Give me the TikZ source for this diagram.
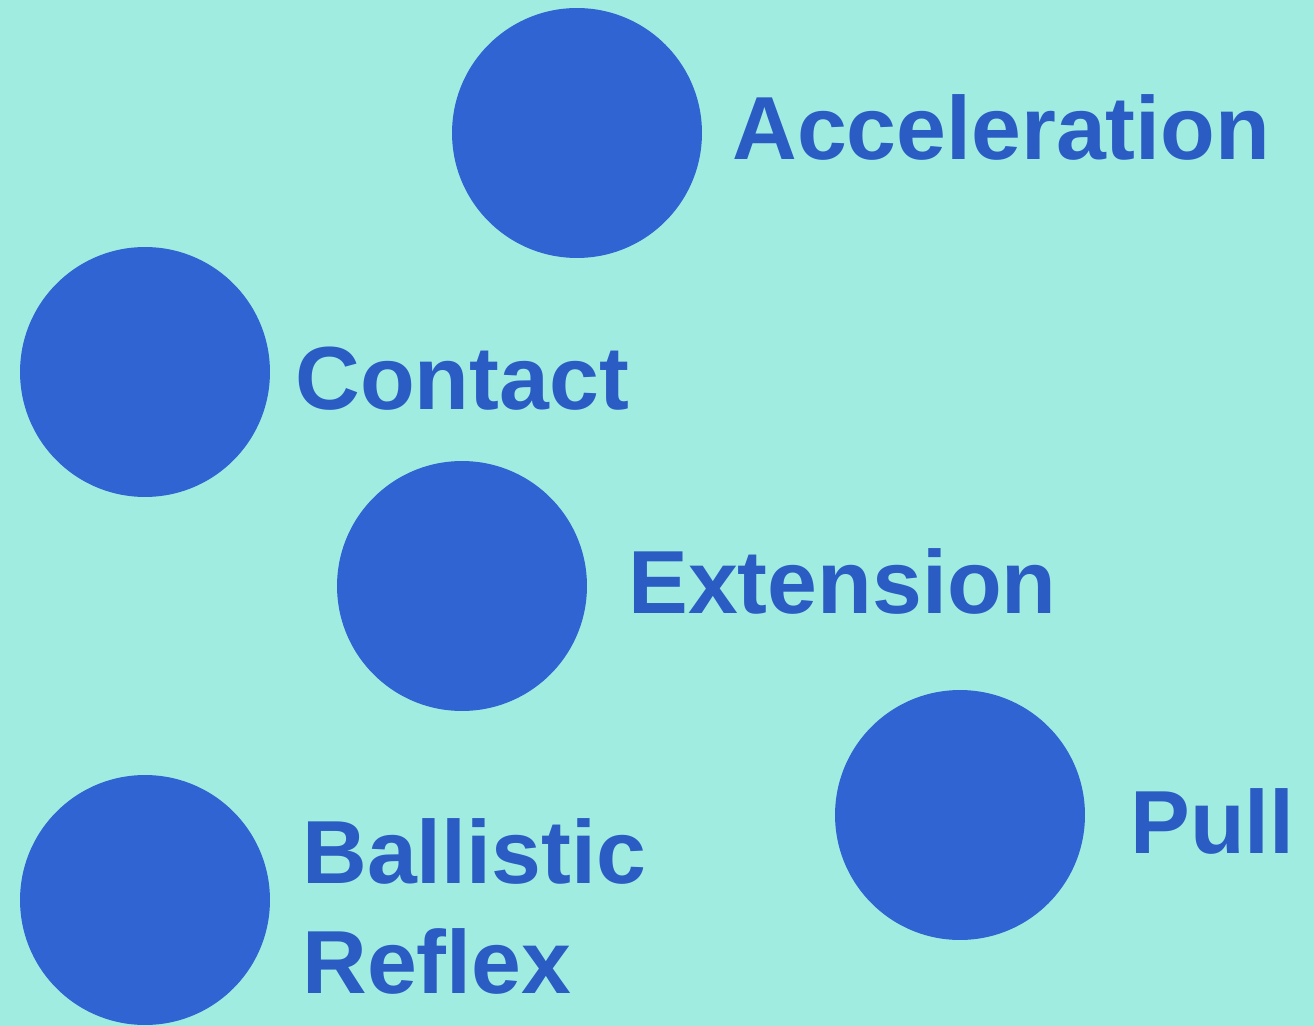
\documentclass[tikz,border=0pt]{standalone}
\usepackage{fontspec}
\setmainfont{Liberation Sans}
\usepackage{xcolor}
\definecolor{PhaseAqua}{RGB}{160,236,224}
\definecolor{PhaseBlue}{RGB}{48,100,210}
\definecolor{PhaseText}{RGB}{42,92,196}

\begin{document}
\begin{tikzpicture}[x=0.02cm,y=-0.02cm,dot/.style={circle,fill=PhaseBlue,minimum size=5cm,inner sep=0pt},lbl/.style={anchor=base west,inner sep=0pt,text=PhaseText,font=\fontsize{51}{55}\selectfont\bfseries,align=left}]
\fill[PhaseAqua](0,0)rectangle(1314,1026);
\useasboundingbox(0,0)rectangle(1314,1026);
\node[dot](acc)at(577,133){};
\node[dot](con)at(145,372){};
\node[dot](ext)at(462,586){};
\node[dot](pul)at(960,815){};
\node[dot](bal)at(145,900){};
\node[lbl](acct)at(732,160){Acceleration};
\node[lbl](cont)at(295,410){Contact};
\node[lbl](extt)at(628,613){Extension};
\node[lbl](pult)at(1130,853){Pull};
\node[lbl](balt)at(302,883){Ballistic};
\node[lbl](reft)at(302,993){Reflex};
\end{tikzpicture}
\end{document}
